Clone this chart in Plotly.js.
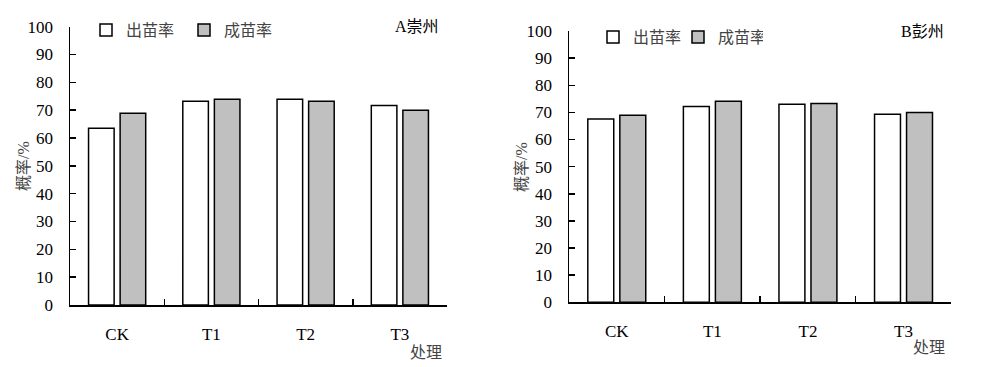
<!DOCTYPE html>
<html><head><meta charset="utf-8">
<script src="https://cdn.plot.ly/plotly-3.0.1.min.js"></script>
<style>html,body{margin:0;padding:0;background:#fff}#c{width:982px;height:367px}</style>
</head><body><div id="c"></div>
<script>
const categories = ['CK', 'T1', 'T2', 'T3'];
const seriesNames = ['出苗率', '成苗率'];
const chongzhouEmergence = [63.5, 73.2, 73.9, 71.7];
const chongzhouEstablish = [68.9, 73.9, 73.2, 70.0];
const pengzhouEmergence = [67.6, 72.2, 73.0, 69.3];
const pengzhouEstablish = [68.9, 74.1, 73.3, 70.0];
const yTicks = [0, 10, 20, 30, 40, 50, 60, 70, 80, 90, 100];
const panelLabels = ['A崇州', 'B彭州'];
const xTitle = '处理';
const yTitle = '概率/%';

const serif = 'Liberation Serif, Times New Roman, serif';
const cjk = 'Liberation Serif, Noto Sans CJK SC, serif';
const lineStyle = {color: '#000', width: 1.5};

function bar(name, y, fill, xa, ya, leg) {
  return {type: 'bar', name: name, x: categories, y: y, xaxis: xa, yaxis: ya, legend: leg,
    marker: {color: fill, line: lineStyle}, hoverinfo: 'skip'};
}
const data = [
  bar(seriesNames[0], chongzhouEmergence, '#ffffff', 'x', 'y', 'legend'),
  bar(seriesNames[1], chongzhouEstablish, '#c0c0c0', 'x', 'y', 'legend'),
  bar(seriesNames[0], pengzhouEmergence, '#ffffff', 'x2', 'y2', 'legend2'),
  bar(seriesNames[1], pengzhouEstablish, '#c0c0c0', 'x2', 'y2', 'legend2')
];

function xAxis(dom, anchor) {
  return {domain: dom, anchor: anchor, type: 'category', showline: true, linecolor: '#000', linewidth: 1.5,
    ticks: 'inside', ticklen: 6, tickwidth: 1.5, tickcolor: '#000', tickson: 'boundaries',
    showgrid: false, zeroline: false, fixedrange: true, ticklabelstandoff: 13,
    tickfont: {family: serif, size: 17, color: '#000'}};
}
function yAxis(dom, anchor) {
  return {domain: dom, anchor: anchor, range: [0, 100], tickvals: yTicks, showline: true, linecolor: '#000', linewidth: 1.5,
    ticks: 'inside', ticklen: 6, tickwidth: 1.5, tickcolor: '#000', showgrid: false, zeroline: false,
    fixedrange: true, ticklabelstandoff: 12, tickfont: {family: serif, size: 17, color: '#000'}};
}
function legend(x, y, ew) {
  return {x: x, y: y, xref: 'paper', yref: 'paper', xanchor: 'left', yanchor: 'middle', orientation: 'h',
    font: {family: cjk, size: 16, color: '#444'}, bgcolor: 'rgba(0,0,0,0)', itemclick: false, itemdoubleclick: false,
    tracegroupgap: 0, itemwidth: 30, entrywidth: ew, entrywidthmode: 'pixels'};
}
function ann(text, x, y, xanchor, angle, color) {
  return {text: text, x: x, y: y, xref: 'paper', yref: 'paper', xanchor: xanchor, yanchor: 'middle',
    showarrow: false, textangle: angle || 0, font: {family: cjk, size: 16, color: color || '#000'}};
}

const layout = {
  width: 982, height: 367, margin: {l: 0, r: 0, t: 0, b: 0},
  paper_bgcolor: '#fff', plot_bgcolor: '#fff', showlegend: true,
  barmode: 'group', bargap: 0.33, bargroupgap: 0.19,
  xaxis: xAxis([70/982, 447/982], 'y'),
  yaxis: yAxis([1 - 305/367, 1 - 26.7/367], 'x'),
  xaxis2: xAxis([569/982, 951.3/982], 'y2'),
  yaxis2: yAxis([1 - 302.3/367, 1 - 31/367], 'x2'),
  legend: legend(86/982, 1 - 30/367, 53),
  legend2: legend(593/982, 1 - 37/367, 40),
  annotations: [
    ann(panelLabels[0], 441/982, 1 - 27/367, 'right'),
    ann(panelLabels[1], 946/982, 1 - 32/367, 'right'),
    ann(xTitle, 444/982, 1 - 352/367, 'right', 0, '#444'),
    ann(xTitle, 947/982, 1 - 347/367, 'right', 0, '#444'),
    ann(yTitle, 23/982, 1 - 166/367, 'center', -90, '#444'),
    ann(yTitle, 522/982, 1 - 167/367, 'center', -90, '#444')
  ]
};
Plotly.newPlot('c', data, layout, {displayModeBar: false, staticPlot: true});
</script></body></html>
